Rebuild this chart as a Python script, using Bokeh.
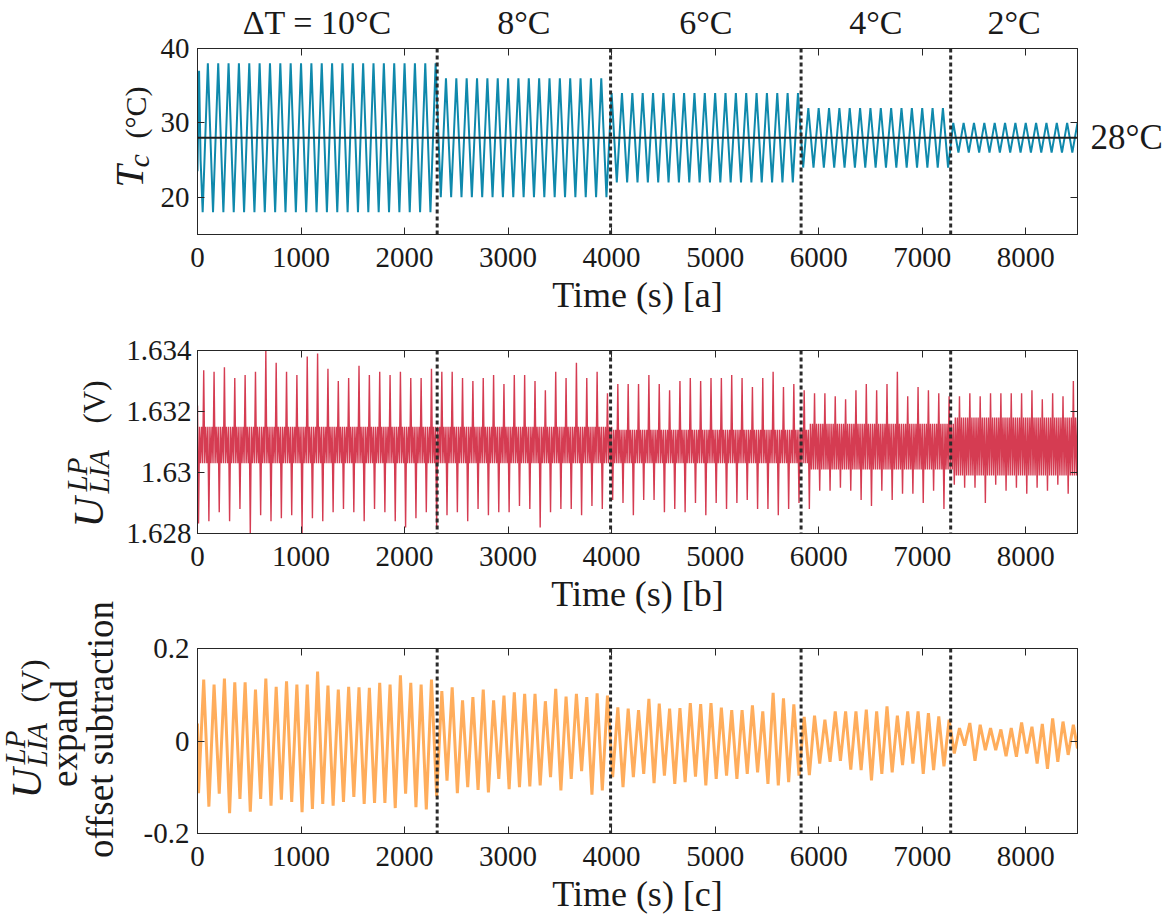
import bisect
from math import pi
from bokeh.plotting import figure
from bokeh.models import Range1d, FixedTicker, LinearAxis, Span
from bokeh.layouts import column, row
from bokeh.core.properties import value
from bokeh.embed import file_html
from bokeh.resources import INLINE

# ---------------- data ----------------
seg_bounds = [0, 2315, 3990, 5830, 7275, 8500]          # s, segment limits
seg_titles = ["ΔT = 10°C", "8°C", "6°C", "4°C", "2°C"]
x_ticks = [0, 1000, 2000, 3000, 4000, 5000, 6000, 7000, 8000]

# panel a : set-point temperature
tc_setpoint = 28
tc_peak_level = [38, 36, 34, 32, 30]
tc_trough_level = [18, 20, 22, 24, 26]
tc_start_t = [0, 15, 30]
tc_start_v = [23.5, 37.0, 25.0]
tc_period = 100
tc_first_trough = 50
tc_n_cycles = 85

# panels b / c : measured oscillation, one trough and one peak per 100 s cycle
osc_period = 100
osc_first_trough = 10

red_hi = [1.63335, 1.6333, 1.63345, 1.6331, 1.6332, 1.6333, 1.6340, 1.6336, 1.6333, 1.6332,
          1.6338, 1.6339, 1.6334, 1.6330, 1.6331, 1.6335, 1.6332, 1.6333, 1.6332, 1.6333,
          1.6331, 1.6331, 1.6334,
          1.6333, 1.6333, 1.6331, 1.6330, 1.6331, 1.6332, 1.6329, 1.6332, 1.6332, 1.6330,
          1.6327, 1.6333, 1.6331, 1.6336, 1.6331, 1.6333, 1.6326,
          1.6329,
          1.6329, 1.6329, 1.6332, 1.6329, 1.6327, 1.6330, 1.6331, 1.6330, 1.6331, 1.6331,
          1.6332, 1.6331, 1.6328, 1.6331, 1.6333, 1.6328, 1.6329, 1.6327, 1.6326, 1.6326,
          1.6325, 1.6324, 1.6327, 1.6329, 1.6327, 1.6329, 1.6333, 1.6325, 1.6328, 1.6327,
          1.6326, 1.6325, 1.6325, 1.6326, 1.6325, 1.6326, 1.6326, 1.6326, 1.6326, 1.6327,
          1.6324, 1.6326, 1.6325, 1.6330]
red_lo = [1.62833, 1.6284, 1.6287, 1.6284, 1.6288, 1.6280, 1.6286, 1.6284, 1.6285, 1.6286,
          1.6280, 1.6285, 1.6284, 1.6287, 1.6288, 1.6287, 1.6284, 1.6288, 1.6287, 1.6284,
          1.6282, 1.6285, 1.6287, 1.6282, 1.6286, 1.6287, 1.6284, 1.6288, 1.6286, 1.6287,
          1.6287, 1.6289, 1.6288, 1.6282, 1.6287, 1.6288, 1.6288, 1.6286, 1.6289, 1.6288,
          1.6291, 1.6290,
          1.6286, 1.6291, 1.6291, 1.6287, 1.6288, 1.6287, 1.6290, 1.6286, 1.6290, 1.6288,
          1.6290, 1.6291, 1.6288, 1.6288, 1.6286, 1.6288, 1.6290, 1.6288, 1.6294, 1.6294,
          1.6295, 1.6294, 1.6291, 1.6289, 1.6294, 1.6291, 1.6293, 1.6293, 1.6290, 1.6294,
          1.6288, 1.6296, 1.6295, 1.6295, 1.6290, 1.6296, 1.6294, 1.6295, 1.6293, 1.6295,
          1.6294, 1.6296, 1.6293]
red_start, red_end = 1.6322, 1.6311
red_core_lo = [1.6303, 1.6303, 1.6303, 1.6301, 1.6299]   # dense noise core per segment
red_core_hi = [1.6315, 1.6315, 1.6314, 1.6316, 1.6318]

org_hi = [0.133, 0.122, 0.135, 0.127, 0.127, 0.111, 0.135, 0.117, 0.129, 0.122,
          0.122, 0.150, 0.120, 0.111, 0.117, 0.116, 0.115, 0.126, 0.122, 0.142,
          0.126, 0.122, 0.133,
          0.108, 0.116, 0.088, 0.095, 0.111, 0.088, 0.098, 0.105, 0.102, 0.102,
          0.086, 0.113, 0.096, 0.102, 0.095, 0.103, 0.098,
          0.073, 0.070, 0.067, 0.091, 0.081, 0.070, 0.071, 0.082, 0.080, 0.082,
          0.072, 0.067, 0.067, 0.077, 0.064, 0.104, 0.092, 0.079,
          0.052, 0.055, 0.046, 0.064, 0.064, 0.064, 0.068, 0.064, 0.075, 0.055,
          0.064, 0.064, 0.060, 0.053, 0.046,
          0.028, 0.039, 0.035, 0.028, 0.025, 0.028, 0.040, 0.031, 0.037, 0.049,
          0.042, 0.035]
org_lo = [-0.113, -0.142, -0.114, -0.156, -0.125, -0.153, -0.125, -0.140, -0.127, -0.132,
          -0.154, -0.147, -0.136, -0.140, -0.132, -0.121, -0.136, -0.134, -0.134, -0.145,
          -0.114, -0.143, -0.148, -0.120,
          -0.086, -0.113, -0.100, -0.106, -0.111, -0.082, -0.104, -0.100, -0.098, -0.096,
          -0.078, -0.107, -0.082, -0.065, -0.116, -0.107,
          -0.078, -0.100, -0.078, -0.071, -0.091, -0.075, -0.093, -0.089, -0.077, -0.096,
          -0.082, -0.075, -0.082, -0.071, -0.068, -0.093, -0.096, -0.089, -0.075,
          -0.074, -0.049, -0.045, -0.043, -0.062, -0.063, -0.085, -0.071, -0.068, -0.052,
          -0.049, -0.071, -0.063, -0.055,
          -0.027, -0.010, -0.043, -0.020, -0.020, -0.033, -0.034, -0.027, -0.049, -0.060,
          -0.045, -0.030]
org_start, org_end = 0.038, -0.016

# ---------------- line vertices from the read values ----------------
def seg_index(t):
    return min(bisect.bisect_right(seg_bounds, t) - 1, len(seg_titles) - 1)

tc_t, tc_v = list(tc_start_t), list(tc_start_v)
for k in range(tc_n_cycles):
    tt = tc_first_trough + tc_period * k
    tp = tt + tc_period / 2
    tc_t += [tt, tp]
    tc_v += [tc_trough_level[seg_index(tt)], tc_peak_level[seg_index(tp)]]

org_t, org_v = [seg_bounds[0]], [org_start]
for k in range(len(org_lo)):
    tt = osc_first_trough + osc_period * k
    org_t += [tt, tt + osc_period / 2]
    org_v += [org_lo[k], org_hi[k]]
org_t.append(seg_bounds[-1]); org_v.append(org_end)

red_t, red_v = [seg_bounds[0]], [red_start]
for k in range(len(red_lo)):
    tt = osc_first_trough + osc_period * k
    s = seg_index(tt)
    ch, cl = red_core_hi[s], red_core_lo[s]
    red_t += [tt + osc_period / 10 * j for j in range(10)]
    red_v += [red_lo[k], ch, cl, ch, cl, red_hi[k], cl, ch, cl, ch]
red_t.append(seg_bounds[-1]); red_v.append(red_end)

# ---------------- styling / layout constants (page pixels) ----------------
FONT = "Liberation Serif"
INK = "#1a1a1a"
AX = "#262626"
BLUE = "#0F89AC"
RED = "#D53C52"
ORANGE = "#FFAD5C"
FRAME_L = 197
FRAME_W = 880
RIGHT = 90
TICK_PX = "29px"
MID = 0.37          # em-box middle above the baseline


def bare_axis(ticks):
    ax = LinearAxis(ticker=FixedTicker(ticks=ticks))
    ax.major_tick_in = 7
    ax.major_tick_out = 0
    ax.minor_tick_line_color = None
    ax.axis_line_color = AX
    ax.major_tick_line_color = AX
    ax.major_label_text_color = None
    ax.major_label_text_font_size = "0px"
    ax.major_label_standoff = 0
    return ax


def text_axis(ticks, texts, size, standoff):
    ax = LinearAxis(ticker=FixedTicker(ticks=ticks),
                    major_label_overrides={t: s for t, s in zip(ticks, texts)})
    ax.major_tick_in = 0
    ax.major_tick_out = 0
    ax.major_tick_line_color = None
    ax.minor_tick_line_color = None
    ax.axis_line_color = None
    ax.major_label_text_font = FONT
    ax.major_label_text_font_size = f"{size}px"
    ax.major_label_text_color = INK
    ax.major_label_standoff = standoff
    return ax


def style_axes(p, yticks, ylabels, xlabel, ystandoff=8):
    p.xgrid.visible = False
    p.ygrid.visible = False
    p.outline_line_color = AX
    p.outline_line_width = 1
    xa, ya = p.xaxis[0], p.yaxis[0]
    xa.ticker = FixedTicker(ticks=x_ticks)
    ya.ticker = FixedTicker(ticks=yticks)
    ya.major_label_overrides = {t: l for t, l in zip(yticks, ylabels)}
    for ax in (xa, ya):
        ax.major_tick_in = 7
        ax.major_tick_out = 0
        ax.minor_tick_line_color = None
        ax.axis_line_color = AX
        ax.major_tick_line_color = AX
        ax.major_label_text_font = FONT
        ax.major_label_text_font_size = TICK_PX
        ax.major_label_text_color = INK
    xa.major_label_standoff = 13
    ya.major_label_standoff = ystandoff
    xa.axis_label = xlabel
    xa.axis_label_text_font = FONT
    xa.axis_label_text_font_size = "36px"
    xa.axis_label_text_font_style = "normal"
    xa.axis_label_text_color = INK
    xa.axis_label_standoff = 5
    p.add_layout(bare_axis(x_ticks), "above")
    p.add_layout(bare_axis(yticks), "right")
    for b in seg_bounds[1:-1]:
        p.add_layout(Span(location=b, dimension="height", line_color="#2b2b2b",
                          line_width=3, line_dash="4 3"))


def panel(yr, left, top, frame_h, bottom, right):
    return figure(frame_width=FRAME_W, frame_height=frame_h,
                  x_range=Range1d(seg_bounds[0], seg_bounds[-1]), y_range=Range1d(*yr),
                  output_backend="svg", toolbar_location=None,
                  min_border_left=left, min_border_right=right,
                  min_border_top=top, min_border_bottom=bottom,
                  background_fill_color="white", border_fill_color="white")


def text_canvas(w, frame_h, y_range, top=0, bottom=0):
    c = figure(frame_width=w, frame_height=frame_h, x_range=Range1d(0, w), y_range=y_range,
               output_backend="svg", toolbar_location=None,
               x_axis_location=None, y_axis_location=None,
               min_border_left=0, min_border_right=0, min_border_top=top,
               min_border_bottom=bottom,
               outline_line_color=None, background_fill_color=None, border_fill_color=None)
    c.xgrid.visible = False
    c.ygrid.visible = False
    return c


def vtext(c, to_y, base_x, page_y, txt, size, style="normal", align="left"):
    """rotated text reading upwards; base_x = page x of its baseline"""
    c.text(x=[base_x - MID * size], y=[to_y(page_y)], text=[txt], angle=pi / 2,
           text_font=value(FONT), text_font_size=value(f"{size}px"),
           text_font_style=style, text_align=align, text_baseline="middle",
           text_color=INK)

# ---------------- panel a ----------------
H1, T1, B1 = 186, 48, 96
W1 = 156
p1 = panel((15, 40), FRAME_L - W1, T1, H1, B1, RIGHT)
style_axes(p1, [20, 30, 40], ["20", "30", "40"], "Time (s) [a]")
title_x = [(seg_bounds[i] + seg_bounds[i + 1]) // 2 for i in range(len(seg_titles))]
p1.add_layout(text_axis(title_x, seg_titles, 34, 8), "above")
p1.add_layout(text_axis([tc_setpoint], [f"{tc_setpoint}°C"], 35, 13), "right")
p1.line(tc_t, tc_v, line_color=BLUE, line_width=2)
p1.add_layout(Span(location=tc_setpoint, dimension="width", line_color="#1f1f1f", line_width=2))

l1 = text_canvas(W1, H1, p1.y_range, top=T1, bottom=B1)
r1 = p1.y_range
to_y1 = lambda py: r1.end - (py - T1) * (r1.end - r1.start) / H1
vtext(l1, to_y1, 144, 187, "T", 40, "italic")
vtext(l1, to_y1, 149, 167, "c", 30, "italic")
vtext(l1, to_y1, 146, 138, "(°C)", 30)

# ---------------- panels b and c ----------------
H2, T2, B2 = 183, 20, 87
H3, T3, B3 = 185, 28, 85
W23 = 122
R23_TOP = T1 + H1 + B1
R23_H = T2 + H2 + B2 + T3 + H3 + B3
p2 = panel((1.628, 1.634), FRAME_L - W23, T2, H2, B2, RIGHT)
style_axes(p2, [1.628, 1.630, 1.632, 1.634], ["1.628", "1.63", "1.632", "1.634"],
           "Time (s) [b]", ystandoff=6)
p2.line(red_t, red_v, line_color=RED, line_width=1.4)

p3 = panel((-0.2, 0.2), FRAME_L - W23, T3, H3, B3, RIGHT)
style_axes(p3, [-0.2, 0, 0.2], ["-0.2", "0", "0.2"], "Time (s) [c]")
p3.line(org_t, org_v, line_color=ORANGE, line_width=3)

l23 = text_canvas(W23, R23_H, Range1d(0, R23_H))
to_y23 = lambda py: R23_TOP + R23_H - py
vtext(l23, to_y23, 104, 527, "U", 42, "italic")
vtext(l23, to_y23, 109, 493, "LIA", 29, "italic")
vtext(l23, to_y23, 87, 491, "LP", 29, "italic")
vtext(l23, to_y23, 105, 423, "(V)", 31)

vtext(l23, to_y23, 114, 729, "offset subtraction", 37, align="center")
vtext(l23, to_y23, 78, 733, "expand", 37, align="center")
vtext(l23, to_y23, 42, 798, "U", 42, "italic")
vtext(l23, to_y23, 47, 766, "LIA", 29, "italic")
vtext(l23, to_y23, 25, 764, "LP", 29, "italic")
vtext(l23, to_y23, 43, 702, "(V)", 31)

layout = column(row(l1, p1), row(l23, column(p2, p3)))
open("out.html", "w").write(file_html(layout, INLINE))
